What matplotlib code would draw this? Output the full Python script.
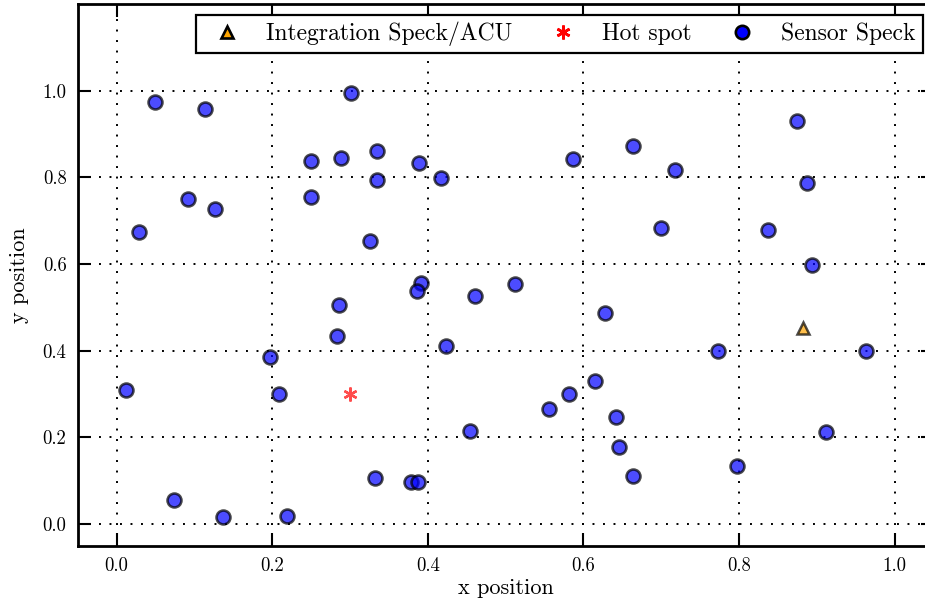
import matplotlib
matplotlib.use("Agg")
import matplotlib.pyplot as plt
from matplotlib.lines import Line2D

plt.rcParams["font.family"] = ["cmr10", "DejaVu Serif"]
plt.rcParams["mathtext.fontset"] = "cm"
plt.rcParams["axes.formatter.use_mathtext"] = True

# Sensor speck positions
sensor_x = [0.049, 0.113, 0.301, 0.250, 0.288, 0.335, 0.335, 0.388, 0.417,
            0.092, 0.127, 0.029, 0.250, 0.326, 0.391, 0.386, 0.460, 0.512,
            0.286, 0.283, 0.423, 0.197, 0.209, 0.012, 0.587, 0.664, 0.718,
            0.700, 0.628, 0.773, 0.615, 0.581, 0.556, 0.642, 0.646, 0.664,
            0.454, 0.332, 0.378, 0.387, 0.074, 0.137, 0.219, 0.797, 0.874,
            0.887, 0.837, 0.894, 0.963, 0.912]
sensor_y = [0.975, 0.958, 0.995, 0.838, 0.845, 0.861, 0.794, 0.834, 0.799,
            0.751, 0.727, 0.674, 0.755, 0.654, 0.557, 0.538, 0.527, 0.554,
            0.506, 0.434, 0.411, 0.386, 0.300, 0.309, 0.843, 0.873, 0.818,
            0.684, 0.488, 0.400, 0.330, 0.299, 0.266, 0.246, 0.178, 0.110,
            0.215, 0.106, 0.097, 0.098, 0.055, 0.016, 0.018, 0.134, 0.931,
            0.788, 0.679, 0.597, 0.400, 0.212]

# Integration speck / ACU and hot spot
acu_x = [0.882]
acu_y = [0.453]
hot_x = [0.300]
hot_y = [0.300]

labels = ["Integration Speck/ACU", "Hot spot", "Sensor Speck"]

fig = plt.figure(figsize=(9.25, 6.04), dpi=100)
ax = fig.add_axes([77.7 / 925, (604 - 545.7) / 604, (933.6 - 77.7) / 925, (545.7 - 4) / 604])

ax.plot(sensor_x, sensor_y, ls="none", marker="o", ms=10, mfc="blue",
        mec="black", mew=1.9, alpha=0.7, zorder=3)
ax.plot(acu_x, acu_y, ls="none", marker="^", ms=8.5, mfc="orange",
        mec="black", mew=1.8, alpha=0.7, zorder=3)
ax.plot(hot_x, hot_y, ls="none", marker=(6, 2, 0), ms=10, mec="red",
        mew=1.7, alpha=0.7, zorder=3)

ax.set_xlim(-0.05, 1.05)
ax.set_ylim(-0.05, 1.2)
ax.set_xticks([0.0, 0.2, 0.4, 0.6, 0.8, 1.0])
ax.set_yticks([0.0, 0.2, 0.4, 0.6, 0.8, 1.0])
ax.set_xticklabels(["0.0", "0.2", "0.4", "0.6", "0.8", "1.0"])
ax.set_yticklabels(["0.0", "0.2", "0.4", "0.6", "0.8", "1.0"])
ax.tick_params(direction="in", length=9.4, width=1.5, labelsize=13.5,
               pad=8, top=True, right=True)
for sp in ax.spines.values():
    sp.set_linewidth(2)

ax.grid(True, color="black", lw=1.4, ls=(0, (1, 4.4)))
ax.set_axisbelow(True)

ax.set_xlabel("x position", fontsize=16, labelpad=3)
ax.set_ylabel("y position", fontsize=16, labelpad=10)

handles = [
    Line2D([], [], ls="none", marker="^", ms=8.5, mfc="orange", mec="black", mew=1.9),
    Line2D([], [], ls="none", marker=(6, 2, 0), ms=10, mec="red", mew=1.9),
    Line2D([], [], ls="none", marker="o", ms=9.6, mfc="blue", mec="black", mew=1.9),
]
leg = ax.legend(handles, labels, loc="upper right", ncol=3, fontsize=17,
                numpoints=1, fancybox=False, framealpha=1, borderpad=0.3,
                handlelength=2.0, handletextpad=0.65, columnspacing=1.15,
                borderaxespad=0.45)
leg.get_frame().set_edgecolor("black")
leg.get_frame().set_linewidth(1.6)

fig.savefig("out.png", dpi=100)
